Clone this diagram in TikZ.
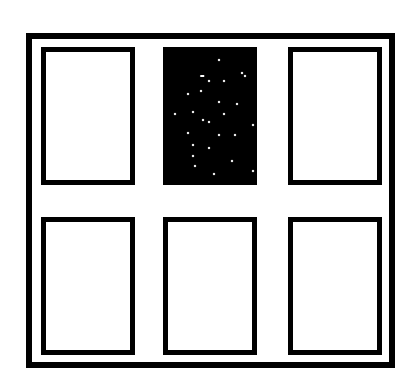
\documentclass[tikz,border=0pt]{standalone}
\usetikzlibrary{positioning}

\begin{document}
\begin{tikzpicture}[
  x=1pt, y=-1pt,
  frame/.style={draw,line width=6pt,minimum width=362.5pt,minimum height=329pt,
                inner sep=0pt,outer sep=0pt},
  pane/.style={draw,line width=5pt,minimum width=89pt,minimum height=133pt,
               inner sep=0pt,outer sep=0pt,fill=white},
  star/.style={fill=white,draw=none},
]
  \useasboundingbox (0,0) rectangle (416,371);
  % Frame
  \node[frame] (frame) at (210.25, 200.5) {};
  % Top row
  \node[pane] (p1) at (88, 116) {};
  \node[pane,fill=black] (p2) at (210, 116) {};
  \node[pane] (p3) at (334.5, 116) {};
  % Bottom row
  \node[pane] (p4) at (88, 286) {};
  \node[pane] (p5) at (210, 286) {};
  \node[pane] (p6) at (334.5, 286) {};
  % Specks in the dark pane
  \foreach \sx/\sy in {219/60, 209/81, 224/81, 242/73, 245/76, 188/94, 201/91,
                       219/102, 237/104, 175/114, 193/112, 224/114, 203/120,
                       209/122, 253/125, 188/133, 219/135, 235/135, 193/145,
                       209/148, 193/156, 232/161, 195/166, 253/171, 214/174}
    \fill[star] (\sx,\sy) circle (1.3pt);
  \draw[white,line width=2.4pt,line cap=round] (201,76) -- (203.5,76);
\end{tikzpicture}
\end{document}
